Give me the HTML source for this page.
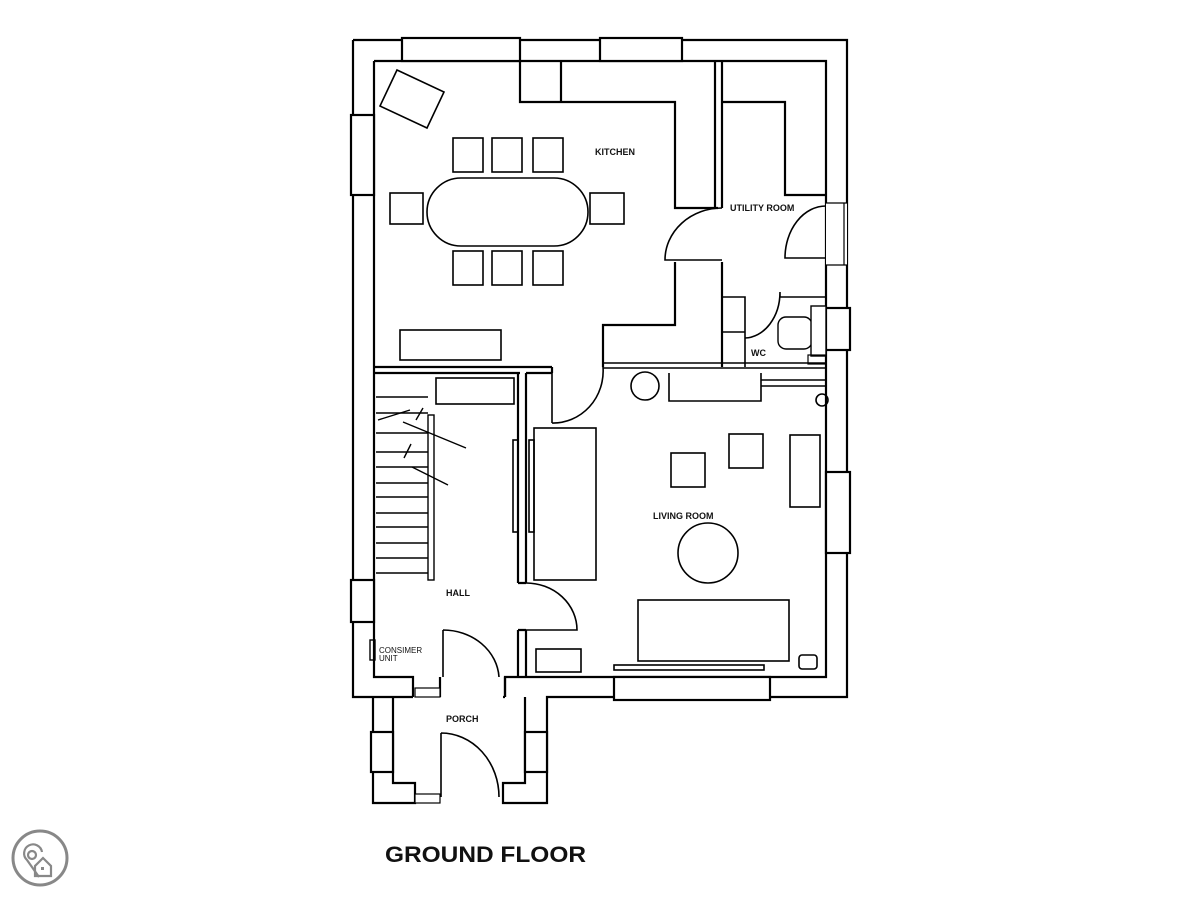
<!DOCTYPE html>
<html><head><meta charset="utf-8"><style>
html,body{margin:0;padding:0;background:#fff;width:1200px;height:900px;overflow:hidden}
svg{display:block}
text{font-family:"Liberation Sans",sans-serif;font-weight:bold;fill:#111}
</style></head><body>
<svg width="1200" height="900" viewBox="0 0 1200 900">
<g fill="none" stroke="#000" stroke-width="2.2">
<path d="M353,40 H847 V697 H547 V803 H503 V783 H525 V697 M503,697 H505 M353,40 V697 H413 M373,697 V803 H415 V783 H393 V697"/>
<path d="M374,61 H826 V677 H505 V697 M374,61 V677 H413 V697 M440,697 V677"/>
<path d="M505,677 V697"/>
<rect x="402" y="38" width="118" height="23" fill="#fff"/>
<rect x="600" y="38" width="82" height="23" fill="#fff"/>
<rect x="351" y="115" width="23" height="80" fill="#fff"/>
<rect x="351" y="580" width="23" height="42" fill="#fff"/>
<rect x="826" y="308" width="24" height="42" fill="#fff"/>
<rect x="826" y="472" width="24" height="81" fill="#fff"/>
<rect x="614" y="677" width="156" height="23" fill="#fff"/>
<rect x="371" y="732" width="22" height="40" fill="#fff"/>
<rect x="525" y="732" width="22" height="40" fill="#fff"/>
<rect x="415" y="688" width="25" height="9" fill="#fff" stroke-width="1.2"/>
<rect x="415" y="794" width="25" height="9" fill="#fff" stroke-width="1.2"/>
<rect x="826" y="203" width="21" height="62" fill="#fff" stroke="none"/>
<path d="M826,203 H847 M826,265 H847 M844,203 V265" stroke-width="1.2"/>
<path d="M374,367 H552 M374,373 H520 M526,373 H552 M552,367 V373"/>
<path d="M603,363 H826 M603,368 H826" stroke-width="1.5"/>
<path d="M518,373 V583 M526,373 V583 M518,583 H526 M518,630 V677 M526,630 V677 M518,630 H526"/>
<path d="M526,583 A51,47 0 0 1 577,630 H526" stroke-width="1.6"/>
<path d="M552,423 V373 M552,423 A50,52 0 0 0 603,367" stroke-width="1.6"/>
<path d="M443,630 V677 M443,630 A56,50 0 0 1 499,677" stroke-width="1.6"/>
<path d="M441,733 V797 M441,733 A58,64 0 0 1 499,797" stroke-width="1.6"/>
<path d="M520,61 V102 H675 V208 H718 M561,61 V102"/>
<path d="M715,61 V208 M722,61 V208"/>
<path d="M722,102 H785 V195 H826"/>
<path d="M722,208 A57,52 0 0 0 665,260 H722" stroke-width="1.6"/>
<path d="M675,262 V325 H603 V367"/>
<path d="M826,206 A41,52 0 0 0 785,258 H826" stroke-width="1.6"/>
<path d="M722,262 V367"/>
<path d="M722,297 H745 V367 M722,332 H745" stroke-width="1.6"/>
<path d="M780,292 V297 H826 M780,292 A36,46 0 0 1 745,338" stroke-width="1.6"/>
<rect x="778" y="317" width="34" height="32" rx="8" stroke-width="1.4"/>
<rect x="811" y="306" width="15" height="50" fill="#fff" stroke-width="1.4"/>
<rect x="808" y="355" width="18" height="9" stroke-width="1.2"/>
<polygon points="397,70 444,92 427,128 380,106" stroke-width="1.6"/>
<rect x="427" y="178" width="161" height="68" rx="34" stroke-width="1.6"/>
<g stroke-width="1.6">
<rect x="453" y="138" width="30" height="34"/><rect x="492" y="138" width="30" height="34"/><rect x="533" y="138" width="30" height="34"/>
<rect x="453" y="251" width="30" height="34"/><rect x="492" y="251" width="30" height="34"/><rect x="533" y="251" width="30" height="34"/>
<rect x="390" y="193" width="33" height="31"/><rect x="590" y="193" width="34" height="31"/>
<rect x="400" y="330" width="101" height="30"/>
</g>
<rect x="436" y="378" width="78" height="26" stroke-width="1.6"/>
<g stroke-width="1.4">
<path d="M376,397 H428 M376,413 H428 M376,433 H428 M376,452 H428 M376,467 H428 M376,483 H428 M376,497 H428 M376,513 H428 M376,527 H428 M376,543 H428 M376,558 H428 M376,573 H428"/>
<rect x="428" y="415" width="6" height="165"/>
<path d="M403,422 L466,448 M412,467 L448,485 M404,458 L411,444 M416,420 L423,408 M378,420 L410,410"/>
</g>
<rect x="370" y="640" width="5" height="20" stroke-width="1.4"/>
<g stroke-width="1.6">
<rect x="513" y="440" width="5" height="92"/><rect x="529" y="440" width="5" height="92"/>
<rect x="534" y="428" width="62" height="152"/>
<rect x="671" y="453" width="34" height="34"/>
<rect x="729" y="434" width="34" height="34"/>
<rect x="790" y="435" width="30" height="72"/>
<circle cx="708" cy="553" r="30"/>
<rect x="638" y="600" width="151" height="61"/>
<rect x="614" y="665" width="150" height="5"/>
<rect x="536" y="649" width="45" height="23"/>
<circle cx="645" cy="386" r="14"/>
<path d="M669,373 V401 H761 V373"/>
<path d="M761,380 H826 M761,386 H826"/>
<rect x="799" y="655" width="18" height="14" rx="3"/>
<circle cx="822" cy="400" r="6"/>
</g>
</g>
<g font-size="9">
<text x="595" y="155">KITCHEN</text>
<text x="730" y="211">UTILITY ROOM</text>
<text x="751" y="356">WC</text>
<text x="653" y="519">LIVING ROOM</text>
<text x="446" y="596">HALL</text>
<text x="446" y="722">PORCH</text>
</g>
<text x="379" y="653" font-size="8" style="font-weight:normal">CONSIMER</text>
<text x="379" y="661" font-size="8" style="font-weight:normal">UNIT</text>
<text x="385" y="862" font-size="22" textLength="201" lengthAdjust="spacingAndGlyphs">GROUND FLOOR</text>
<g fill="none" stroke="#888" stroke-width="3">
<circle cx="40" cy="858" r="27"/>
<path d="M39,877 L27,860 A9,9 0 1 1 42,852" stroke-width="2.2"/>
<circle cx="32" cy="855" r="4" stroke-width="2.2"/>
<path d="M35,876 V866 L43,858 L51,866 V876 Z" stroke-width="2.2"/>
</g>
<rect x="41" y="867" width="3" height="3" fill="#888"/>
</svg>
</body></html>
